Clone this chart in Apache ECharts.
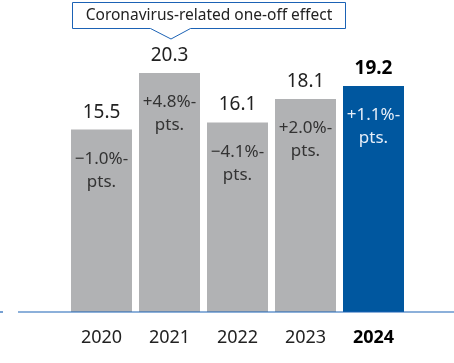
<!DOCTYPE html>
<html>
<head>
<meta charset="utf-8">
<script src="https://cdn.jsdelivr.net/npm/echarts@6/dist/echarts.min.js"></script>
<style>
  html, body { margin: 0; padding: 0; background: #fff; }
  #chart { width: 454px; height: 363px; }
</style>
</head>
<body>
<div id="chart"></div>
<script>
// Yearly values with the change versus the previous year
const years = ['2020', '2021', '2022', '2023', '2024'];
const values = [15.5, 20.3, 16.1, 18.1, 19.2];
const changes = ['\u22121.0%-\npts.', '+4.8%-\npts.', '\u22124.1%-\npts.', '+2.0%-\npts.', '+1.1%-\npts.'];
const calloutText = 'Coronavirus-related one-off effect';
const calloutYear = '2021';

const FONT = '"Noto Sans"';
const GREY = '#b1b2b4';
const BLUE = '#00579f';
const LINE = '#1b62b5';
const highlight = years.length - 1;

const chart = echarts.init(document.getElementById('chart'), null, { renderer: 'canvas' });

const barData = values.map((v, i) => ({
  value: v,
  itemStyle: { color: i === highlight ? BLUE : GREY },
  label: {
    fontWeight: i === highlight ? 'bold' : 'normal',
    color: i === highlight ? '#000' : '#222'
  }
}));

const changeData = values.map((v, i) => ({
  value: v,
  label: {
    formatter: changes[i],
    color: i === highlight ? '#e6eef8' : '#333'
  }
}));

chart.setOption({
  animation: false,
  grid: { left: 67.5, right: 46.5, top: 59, bottom: 51 },
  xAxis: {
    type: 'category',
    data: years,
    axisLine: { show: false },
    axisTick: { show: false },
    axisLabel: {
      interval: 0,
      margin: 17,
      fontFamily: FONT,
      fontSize: 18,
      color: '#222',
      formatter: (v, i) => i === highlight ? '{b|' + v + '}' : v,
      rich: { b: { fontFamily: FONT, fontSize: 18, fontWeight: 'bold', color: '#000' } }
    }
  },
  yAxis: {
    type: 'value',
    min: 0,
    max: 21.5,
    show: false
  },
  series: [
    {
      type: 'bar',
      data: barData,
      barWidth: 61,
      label: {
        show: true,
        position: 'top',
        distance: 8,
        fontFamily: FONT,
        fontSize: 19,
        formatter: p => p.value.toFixed(1)
      }
    },
    {
      // invisible overlay that carries the change labels inside each bar
      type: 'bar',
      data: changeData,
      barWidth: 61,
      barGap: '-100%',
      itemStyle: { color: 'transparent' },
      label: {
        show: true,
        position: 'insideTop',
        distance: 18,
        fontFamily: FONT,
        fontSize: 17,
        lineHeight: 23,
        align: 'center'
      },
      z: 3
    }
  ]
});

// Baseline and callout box positioned from the axes
const base = chart.convertToPixel({ yAxisIndex: 0 }, 0);
const cx = chart.convertToPixel({ xAxisIndex: 0 }, calloutYear);
const boxTop = 2.5, boxBottom = 28.5;
const boxLeft = 72.5, boxRight = 345.5;
const tipY = 39;

chart.setOption({
  graphic: [
    {
      type: 'line',
      shape: { x1: 0, y1: base, x2: 3, y2: base },
      style: { stroke: LINE, lineWidth: 1.2 },
      z: 10
    },
    {
      type: 'line',
      shape: { x1: 18, y1: base, x2: 454, y2: base },
      style: { stroke: LINE, lineWidth: 1.2 },
      z: 10
    },
    {
      type: 'polygon',
      shape: {
        points: [
          [boxLeft, boxTop], [boxRight, boxTop], [boxRight, boxBottom],
          [cx + 21, boxBottom], [cx + 1.5, tipY], [cx - 19, boxBottom],
          [boxLeft, boxBottom]
        ]
      },
      style: { fill: '#fff', stroke: LINE, lineWidth: 1 },
      z: 10
    },
    {
      type: 'text',
      x: (boxLeft + boxRight) / 2,
      y: (boxTop + boxBottom) / 2,
      style: {
        text: calloutText,
        fontFamily: FONT,
        fontSize: 15.5,
        fill: '#222',
        align: 'center',
        verticalAlign: 'middle'
      },
      z: 11
    }
  ]
});
</script>
</body>
</html>
